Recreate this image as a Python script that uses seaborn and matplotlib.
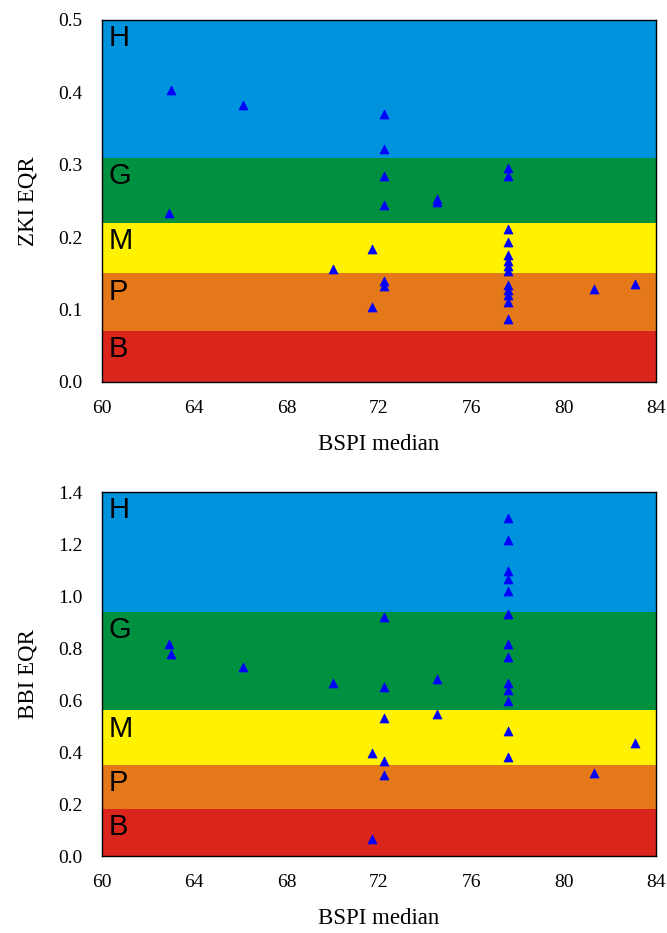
import numpy as np
import pandas as pd
import matplotlib
matplotlib.use("Agg")
import matplotlib.pyplot as plt
import seaborn as sns

# ZKI EQR vs BSPI median (upper panel)
zki_bspi = [63.0, 66.1, 72.2, 72.2, 72.2, 72.2, 74.5, 74.5, 62.9,
            77.6, 77.6, 77.6, 77.6, 77.6, 77.6, 77.6, 77.6,
            71.7, 70.0, 72.2, 72.2, 71.7,
            77.6, 77.6, 77.6, 77.6, 77.6, 81.3, 83.1]
zki_eqr = [0.403, 0.382, 0.370, 0.322, 0.284, 0.245, 0.253, 0.248, 0.233,
           0.295, 0.284, 0.211, 0.194, 0.175, 0.167, 0.160, 0.153,
           0.184, 0.156, 0.139, 0.133, 0.104,
           0.134, 0.127, 0.120, 0.111, 0.087, 0.129, 0.136]

# BBI EQR vs BSPI median (lower panel)
bbi_bspi = [77.6, 77.6, 77.6, 77.6, 77.6, 77.6, 77.6, 77.6, 77.6, 77.6, 77.6, 77.6, 77.6,
            72.2, 72.2, 72.2, 72.2, 72.2, 71.7, 71.7,
            62.9, 63.0, 66.1, 70.0, 74.5, 74.5, 81.3, 83.1]
bbi_eqr = [1.299, 1.215, 1.098, 1.064, 1.018, 0.933, 0.815, 0.766, 0.664, 0.638, 0.597, 0.481, 0.381,
           0.918, 0.650, 0.532, 0.366, 0.313, 0.398, 0.065,
           0.817, 0.776, 0.729, 0.665, 0.683, 0.547, 0.318, 0.433]

# status classes and their upper boundaries
classes = ["B", "P", "M", "G", "H"]
class_colors = ["#da251d", "#e57818", "#fff200", "#009140", "#0093dd"]
zki_bounds = [0.0, 0.07, 0.15, 0.22, 0.31, 0.5]
bbi_bounds = [0.0, 0.18, 0.35, 0.56, 0.94, 1.4]

x_ticks = [60, 64, 68, 72, 76, 80, 84]

sns.set_theme(style="white")
plt.rcParams['font.family'] = ['Liberation Serif', 'DejaVu Serif']
plt.rcParams['text.color'] = 'black'
plt.rcParams['axes.labelcolor'] = 'black'
plt.rcParams['xtick.color'] = 'black'
plt.rcParams['ytick.color'] = 'black'


def draw_panel(ax, x, y, bounds, ylabel, ystep):
    for lo, hi, col, name in zip(bounds[:-1], bounds[1:], class_colors, classes):
        ax.axhspan(lo, hi, color=col, zorder=0, lw=0)
        ax.annotate(name, xy=(60, hi), xytext=(5, -3), textcoords='offset points',
                    ha='left', va='top', fontsize=21, family='Liberation Sans', color='black')
    df = pd.DataFrame({'x': x, 'y': y})
    sns.scatterplot(data=df, x='x', y='y', ax=ax, marker='^', s=42,
                    color='#0000ff', edgecolor='#0000ff', linewidth=0.5, zorder=3)
    ax.set_xlim(60, 84)
    ax.set_ylim(bounds[0], bounds[-1])
    ax.set_xticks(x_ticks)
    ax.set_yticks(np.round(np.arange(0, bounds[-1] + ystep / 2, ystep), 2))
    ax.yaxis.set_major_formatter(matplotlib.ticker.FormatStrFormatter('%.1f'))
    ax.tick_params(axis='y', length=0, labelsize=14, pad=14)
    ax.tick_params(axis='x', length=0, labelsize=14, pad=13)
    ax.set_xlabel('BSPI median', fontsize=16.5, labelpad=12)
    ax.set_ylabel(ylabel, fontsize=16.5, labelpad=14)
    for sp in ax.spines.values():
        sp.set_color('black')
        sp.set_linewidth(1.0)
        sp.set_zorder(5)


fig = plt.figure(figsize=(6.67, 9.33), dpi=100)
ax1 = fig.add_axes([0.153, 0.5906, 0.8305, 0.388])
ax2 = fig.add_axes([0.153, 0.0825, 0.8305, 0.390])

draw_panel(ax1, zki_bspi, zki_eqr, zki_bounds, 'ZKI EQR', 0.1)
draw_panel(ax2, bbi_bspi, bbi_eqr, bbi_bounds, 'BBI EQR', 0.2)

fig.savefig('out.png', dpi=100)
